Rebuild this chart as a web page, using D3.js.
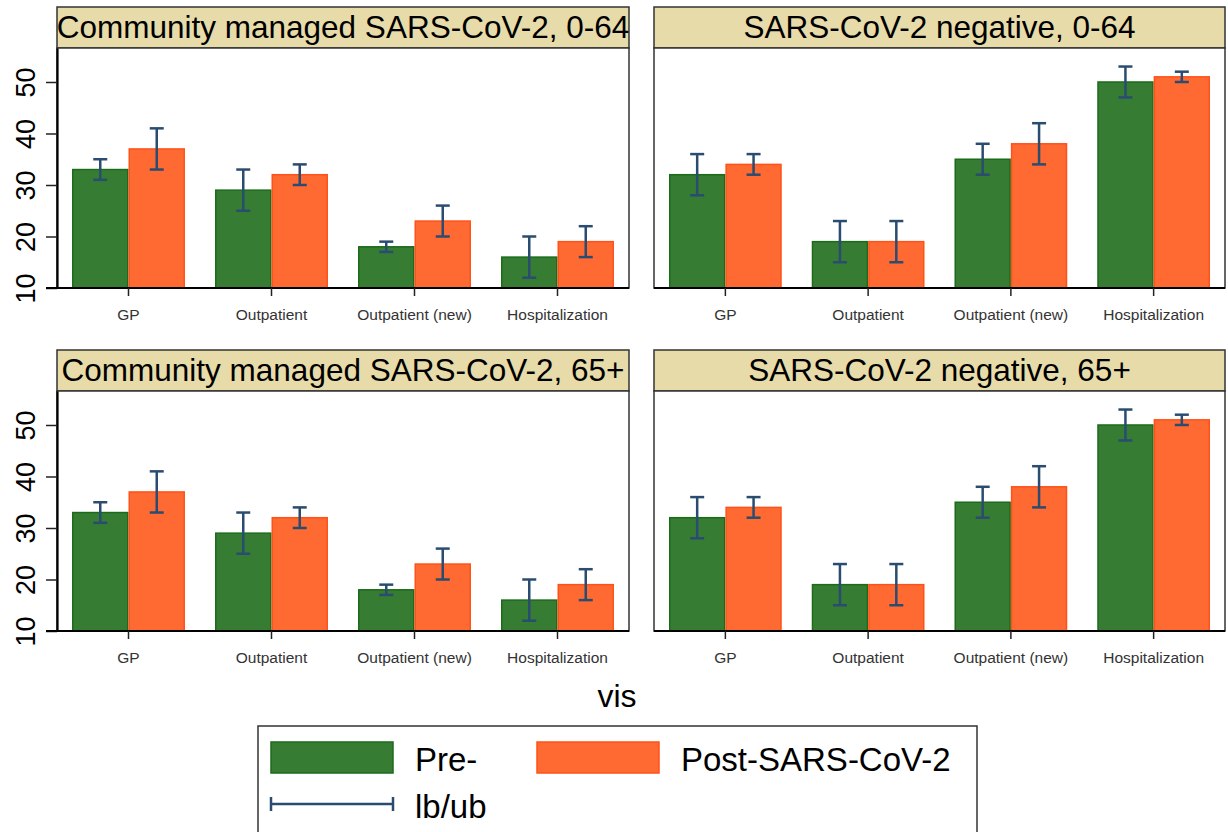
<!DOCTYPE html>
<html><head><meta charset="utf-8">
<script src="https://cdn.jsdelivr.net/npm/d3@7"></script>
<style>body{margin:0;background:#fff;} svg{display:block;font-family:"Liberation Sans",Arial,sans-serif;}</style>
</head><body>
<svg id="chart" width="1228" height="832"></svg>
<script>
const categories = ["GP", "Outpatient", "Outpatient (new)", "Hospitalization"];
const seriesNames = ["Pre-", "Post-SARS-CoV-2"];
const panelTitles = ["Community managed SARS-CoV-2, 0-64", "SARS-CoV-2 negative, 0-64",
                     "Community managed SARS-CoV-2, 65+", "SARS-CoV-2 negative, 65+"];
// community managed
const commPre = [33, 29, 18, 16];
const commPreLb = [31, 25, 17, 12];
const commPreUb = [35, 33, 19, 20];
const commPost = [37, 32, 23, 19];
const commPostLb = [33, 30, 20, 16];
const commPostUb = [41, 34, 26, 22];
// negative
const negPre = [32, 19, 35, 50];
const negPreLb = [28, 15, 32, 47];
const negPreUb = [36, 23, 38, 53];
const negPost = [34, 19, 38, 51];
const negPostLb = [32, 15, 34, 50];
const negPostUb = [36, 23, 42, 52];
const yTicks = [10, 20, 30, 40, 50];
const yDomain = [10, 56.6];
const xTitle = "vis";
const errLabel = "lb/ub";

const panelData = [
  {pre: commPre, preLb: commPreLb, preUb: commPreUb, post: commPost, postLb: commPostLb, postUb: commPostUb},
  {pre: negPre, preLb: negPreLb, preUb: negPreUb, post: negPost, postLb: negPostLb, postUb: negPostUb},
  {pre: commPre, preLb: commPreLb, preUb: commPreUb, post: commPost, postLb: commPostLb, postUb: commPostUb},
  {pre: negPre, preLb: negPreLb, preUb: negPreUb, post: negPost, postLb: negPostLb, postUb: negPostUb}
];

const colors = {fill: ["#367d33", "#ff6a33"], stroke: ["#1b6b1b", "#ff5219"]};
const errColor = "#2a4c70";
const headerFill = "#e7dba9";

const svg = d3.select("#chart");
const layout = [
  {x0: 57, x1: 629, hTop: 7, top: 48, bottom: 288, yAxis: true},
  {x0: 654, x1: 1225, hTop: 7, top: 48, bottom: 288, yAxis: false},
  {x0: 57, x1: 629, hTop: 350, top: 391, bottom: 631, yAxis: true},
  {x0: 654, x1: 1225, hTop: 350, top: 391, bottom: 631, yAxis: false}
];

layout.forEach((L, i) => {
  const d = panelData[i];
  const g = svg.append("g");
  const x = d3.scaleBand().domain(categories).range([L.x0, L.x1]).padding(0);
  const groupW = x.bandwidth() * 0.79;
  const xs = d3.scaleBand().domain(seriesNames).range([-groupW / 2, groupW / 2]).padding(0);
  const y = d3.scaleLinear().domain(yDomain).range([L.bottom, L.top]);

  // header
  g.append("rect").attr("x", L.x0).attr("y", L.hTop).attr("width", L.x1 - L.x0).attr("height", L.top - L.hTop)
    .attr("fill", headerFill).attr("stroke", "#333").attr("stroke-width", 1.5);
  g.append("text").attr("x", (L.x0 + L.x1) / 2).attr("y", L.top - 10).attr("text-anchor", "middle")
    .attr("font-size", 31.5).attr("fill", "#000").text(panelTitles[i]);

  // plot border
  g.append("rect").attr("x", L.x0).attr("y", L.top).attr("width", L.x1 - L.x0).attr("height", L.bottom - L.top)
    .attr("fill", "#fff").attr("stroke", "#333").attr("stroke-width", 1.5);

  // bars
  const rows = categories.map((c, k) => ({c, vals: [
    {s: 0, v: d.pre[k], lb: d.preLb[k], ub: d.preUb[k]},
    {s: 1, v: d.post[k], lb: d.postLb[k], ub: d.postUb[k]}]}));
  rows.forEach(r => {
    const cx = x(r.c) + x.bandwidth() / 2;
    r.vals.forEach(b => {
      g.append("rect").attr("x", cx + xs(seriesNames[b.s]) + 0.75).attr("y", y(b.v))
        .attr("width", xs.bandwidth() - 1.5).attr("height", y(yDomain[0]) - y(b.v))
        .attr("fill", colors.fill[b.s]).attr("stroke", colors.stroke[b.s]).attr("stroke-width", 1.5);
    });
  });
  rows.forEach(r => {
    const cx = x(r.c) + x.bandwidth() / 2;
    r.vals.forEach(b => {
      const bx = cx + xs(seriesNames[b.s]) + xs.bandwidth() / 2;
      const eg = g.append("g").attr("stroke", errColor).attr("stroke-width", 2.5);
      eg.append("line").attr("x1", bx).attr("x2", bx).attr("y1", y(b.lb)).attr("y2", y(b.ub));
      [b.lb, b.ub].forEach(v => eg.append("line").attr("x1", bx - 7).attr("x2", bx + 7).attr("y1", y(v)).attr("y2", y(v)));
    });
  });

  // axes
  if (L.yAxis) {
    const yAxis = g.append("g").attr("transform", `translate(${L.x0},0)`)
      .call(d3.axisLeft(y).tickValues(yTicks).tickSize(11).tickSizeOuter(0).tickPadding(11));
    yAxis.select(".domain").attr("stroke", "#000").attr("stroke-width", 2.2);
    yAxis.selectAll(".tick line").attr("stroke", "#222").attr("stroke-width", 1.5);
    yAxis.selectAll(".tick text").attr("font-size", 27).attr("fill", "#000")
      .attr("x", 0).attr("y", 0).attr("dy", 0).attr("text-anchor", "middle")
      .attr("transform", "translate(-22,0) rotate(-90)");
  }
  const xAxis = g.append("g").attr("transform", `translate(0,${L.bottom})`)
    .call(d3.axisBottom(x).tickSize(8).tickSizeOuter(0).tickPadding(13));
  xAxis.select(".domain").attr("stroke", "#000").attr("stroke-width", 2.2)
    .attr("d", `M${L.yAxis ? L.x0 - 11 : L.x0},0H${L.x1}`);
  xAxis.selectAll(".tick line").attr("stroke", "#222").attr("stroke-width", 1.5);
  xAxis.selectAll(".tick text").attr("font-size", 15.5).attr("fill", "#333");
});

// x title
svg.append("text").attr("x", 617).attr("y", 707).attr("text-anchor", "middle").attr("font-size", 32).attr("fill", "#000").text(xTitle);

// legend
const lg = svg.append("g");
lg.append("rect").attr("x", 258).attr("y", 726).attr("width", 719).attr("height", 130)
  .attr("fill", "#fff").attr("stroke", "#333").attr("stroke-width", 1.5);
seriesNames.forEach((s, k) => {
  const sx = [271, 537][k];
  lg.append("rect").attr("x", sx).attr("y", 742).attr("width", 122).attr("height", 31)
    .attr("fill", colors.fill[k]).attr("stroke", colors.stroke[k]).attr("stroke-width", 1.5);
  lg.append("text").attr("x", sx + 144).attr("y", 771).attr("font-size", 33).attr("fill", "#000").text(s);
});
const el = lg.append("g").attr("stroke", errColor).attr("stroke-width", 2.5);
el.append("line").attr("x1", 271).attr("x2", 393).attr("y1", 804).attr("y2", 804);
[271, 393].forEach(xv => el.append("line").attr("x1", xv).attr("x2", xv).attr("y1", 797).attr("y2", 811));
lg.append("text").attr("x", 415).attr("y", 818).attr("font-size", 33).attr("fill", "#000").text(errLabel);
</script>
</body></html>
